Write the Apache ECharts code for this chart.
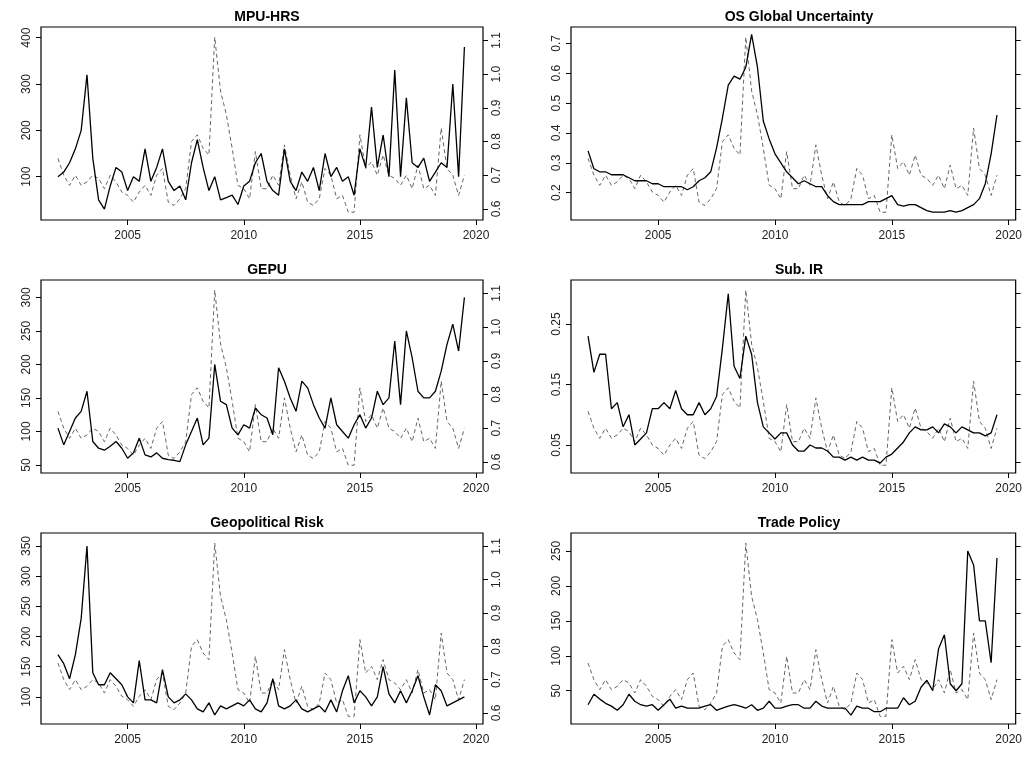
<html><head>
<meta charset="utf-8">
<title>Uncertainty measures</title>
<script src="https://cdn.jsdelivr.net/npm/echarts@6/dist/echarts.min.js"></script>
<style>body{margin:0;background:#fff}#main{width:1025px;height:757px}</style>
</head>
<body>
<div id="main"></div>
<script>
// quarterly readings, 2002Q1 .. 2019Q3
var dates = [];
for (var i = 0; i < 71; i++) dates.push(2002 + i * 0.25);

// the dashed series (right axis), same in every panel
var common = [0.75,0.70,0.67,0.70,0.67,0.68,0.70,0.69,0.66,0.70,0.68,0.65,0.64,0.62,0.65,0.67,
  0.64,0.70,0.72,0.62,0.61,0.63,0.66,0.80,0.82,0.78,0.76,1.11,0.95,0.88,0.78,0.67,
  0.66,0.63,0.77,0.66,0.66,0.70,0.67,0.79,0.70,0.63,0.68,0.62,0.61,0.63,0.72,0.70,
  0.63,0.64,0.59,0.59,0.82,0.72,0.74,0.70,0.76,0.70,0.69,0.67,0.70,0.66,0.73,0.66,
  0.67,0.64,0.84,0.72,0.70,0.64,0.70];

var mpuHrs = [100,110,130,160,200,320,140,50,30,80,120,110,70,100,90,160,
  90,120,160,90,70,80,50,130,180,120,70,100,50,55,60,40,
  80,90,130,150,90,70,60,160,90,70,110,90,120,70,150,100,
  120,90,100,60,160,120,250,120,190,100,330,100,270,130,120,140,
  90,110,130,120,300,100,380];

var osGlobal = [0.34,0.28,0.27,0.27,0.26,0.26,0.26,0.25,0.24,0.24,0.24,0.23,0.23,0.22,0.22,0.22,
  0.22,0.21,0.22,0.24,0.25,0.27,0.35,0.45,0.56,0.59,0.58,0.62,0.73,0.62,0.44,0.38,
  0.33,0.30,0.27,0.25,0.23,0.24,0.23,0.22,0.22,0.19,0.17,0.16,0.16,0.16,0.16,0.16,
  0.17,0.17,0.17,0.18,0.19,0.16,0.155,0.16,0.16,0.15,0.14,0.135,0.135,0.135,0.14,0.135,
  0.14,0.15,0.16,0.18,0.23,0.33,0.46];

var gepu = [105,80,100,120,130,160,85,75,72,78,85,75,60,68,90,65,
  62,68,60,58,57,55,80,100,120,80,90,200,145,140,105,95,
  110,105,135,125,120,95,195,175,150,130,175,165,140,120,105,150,
  110,100,90,110,125,105,120,160,140,150,235,140,250,210,160,150,
  150,160,190,230,260,220,300];

var subIR = [0.23,0.17,0.20,0.20,0.11,0.12,0.08,0.10,0.05,0.06,0.07,0.11,0.11,0.12,0.11,0.14,
  0.11,0.10,0.10,0.12,0.10,0.11,0.13,0.21,0.30,0.18,0.16,0.23,0.20,0.12,0.08,0.07,
  0.06,0.07,0.07,0.05,0.04,0.04,0.05,0.045,0.045,0.04,0.03,0.03,0.025,0.03,0.025,0.03,
  0.025,0.025,0.02,0.03,0.035,0.045,0.055,0.07,0.08,0.075,0.075,0.08,0.07,0.085,0.08,0.07,
  0.08,0.075,0.07,0.07,0.065,0.07,0.10];

var geoRisk = [170,155,130,170,230,350,140,120,120,140,130,120,100,90,160,95,
  95,90,145,100,90,95,105,95,80,75,90,70,85,80,85,90,
  85,95,80,75,90,130,85,80,85,95,80,75,80,85,75,95,
  75,110,135,90,110,100,85,100,150,105,90,110,90,110,135,100,
  70,120,110,85,90,95,100];

var tradePol = [30,45,38,32,28,22,30,45,35,30,28,30,22,30,38,25,
  28,25,25,25,28,30,22,25,28,30,28,25,30,22,25,35,
  25,25,28,30,30,25,25,35,28,25,25,25,25,15,28,25,
  25,20,20,25,25,25,40,30,35,55,65,50,110,130,60,50,
  60,250,230,150,150,90,240];

var panels = [
  {title:'MPU-HRS', v:mpuHrs, ymin:6.5, ymax:423, ticks:[100,200,300,400], rightLabels:true},
  {title:'OS Global Uncertainty', v:osGlobal, ymin:0.1086, ymax:0.7546, ticks:[0.2,0.3,0.4,0.5,0.6,0.7], rightLabels:false},
  {title:'GEPU', v:gepu, ymin:38, ymax:326, ticks:[50,100,150,200,250,300], rightLabels:true},
  {title:'Sub. IR', v:subIR, ymin:0.0037, ymax:0.3227, ticks:[0.05,0.15,0.25], rightLabels:false},
  {title:'Geopolitical Risk', v:geoRisk, ymin:55, ymax:371.5, ticks:[100,150,200,250,300,350], rightLabels:true},
  {title:'Trade Policy', v:tradePol, ymin:2.4, ymax:275.7, ticks:[50,100,150,200,250], rightLabels:false}
];
var rightTicks = [0.6,0.7,0.8,0.9,1.0,1.1];
var yearTicks = [2005,2010,2015,2020];

var boxes = [[41,27,442,193],[571,27,446,193],[41,280,442,193],[571,280,446,193],[41,533,442,191],[571,533,446,191]];
var font = 'Liberation Sans, Arial, sans-serif';

var grid = [], xAxis = [], yAxis = [], series = [], title = [];
function pairs(v){ var out=[]; for (var i=0;i<v.length;i++) out.push([dates[i], v[i]]); return out; }

panels.forEach(function(p, k){
  var b = boxes[k];
  grid.push({left:b[0], top:b[1], width:b[2], height:b[3], show:true, borderColor:'#000', borderWidth:1.2, backgroundColor:'transparent'});
  title.push({text:p.title, left:b[0]+b[2]/2, top:b[1]-22, textAlign:'center',
    textStyle:{fontFamily:font, fontSize:14, fontWeight:'bold', color:'#000'}});
  xAxis.push({type:'value', gridIndex:k, min:2001.27, max:2020.3,
    splitLine:{show:false}, axisLine:{show:false},
    axisTick:{show:true, inside:false, length:5, customValues:yearTicks, lineStyle:{color:'#000'}},
    axisLabel:{customValues:yearTicks, color:'#222', fontFamily:font, fontSize:12, margin:10,
      formatter:function(v){ return String(Math.round(v)); }}});
  yAxis.push({type:'value', gridIndex:k, min:p.ymin, max:p.ymax,
    splitLine:{show:false}, axisLine:{show:false},
    axisTick:{show:true, length:5, customValues:p.ticks, lineStyle:{color:'#000'}},
    axisLabel:{customValues:p.ticks, rotate:90, color:'#222', fontFamily:font, fontSize:12, margin:8,
      formatter:function(v){ return String(+v.toFixed(2)); }}});
  yAxis.push({type:'value', gridIndex:k, position:'right', min:0.567, max:1.14,
    splitLine:{show:false}, axisLine:{show:false},
    axisTick:{show:true, length:5, customValues:rightTicks, lineStyle:{color:'#000'}},
    axisLabel:{show:p.rightLabels, customValues:rightTicks, rotate:90, color:'#222', fontFamily:font, fontSize:12, margin:8,
      formatter:function(v){ return v.toFixed(1); }}});
  series.push({type:'line', xAxisIndex:k, yAxisIndex:2*k+1, data:pairs(common), symbol:'none',
    lineStyle:{color:'#666', width:1, type:[4,3]}, animation:false});
  series.push({type:'line', xAxisIndex:k, yAxisIndex:2*k, data:pairs(p.v), symbol:'none',
    lineStyle:{color:'#000', width:1.3}, animation:false});
});

var myChart = echarts.init(document.getElementById('main'));
myChart.setOption({backgroundColor:'#fff', animation:false, title:title, grid:grid, xAxis:xAxis, yAxis:yAxis, series:series});
</script>
</body></html>
